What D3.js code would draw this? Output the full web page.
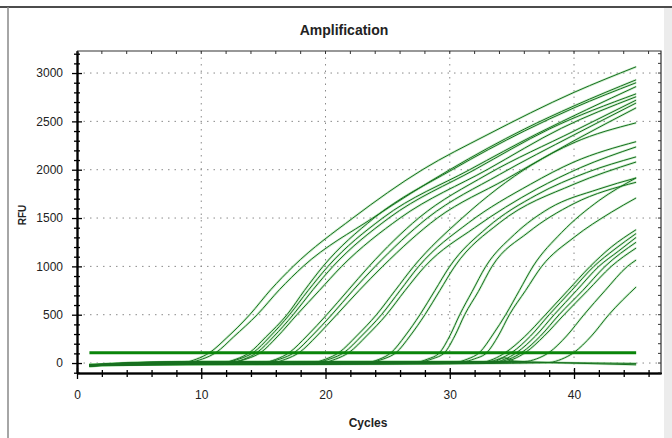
<!DOCTYPE html>
<html>
<head>
<meta charset="utf-8">
<script src="https://cdn.jsdelivr.net/npm/d3@7"></script>
<style>
body { margin: 0; background: #fff; }
text { font-family: "Liberation Sans", Arial, sans-serif; fill: #222; }
</style>
</head>
<body>
<div id="chart"></div>
<script>
// tick values and labels
const xTicks = [0, 10, 20, 30, 40];
const yTicks = [0, 500, 1000, 1500, 2000, 2500, 3000];
const thresholdRFU = 107;
const thresholdCycles = [1, 45];

// amplification curves, [cycle, RFU], grouped by where they leave the baseline
const groupA = [
  [[1,-30],[3,-12],[6,-8],[8.6,6],[9.6,40],[10.7,110],[12,255],[13.9,500],[15.6,760],[17.4,1000],[22.2,1500],[27.8,2000],[33,2360],[40,2800],[45,3065]],
  [[1,-25],[3,-8],[6,10],[9.1,12],[10.1,42],[11.2,110],[12.6,270],[14.5,500],[16.3,760],[18.2,1000],[23.8,1500],[30,2000],[36,2420],[40,2660],[45,2930]]
];
const groupB = [
  [[1,-20],[4,-14],[9,-6],[11.8,6],[12.8,40],[13.9,110],[15.2,270],[16.9,500],[18.3,750],[19.8,1000],[23.9,1500],[30.2,2000],[36,2400],[40,2640],[45,2900]],
  [[1,-36],[4,-6],[9,12],[12.1,14],[13.1,44],[14.2,110],[15.5,270],[17.1,500],[18.6,750],[20.2,1000],[24.6,1500],[31.6,2000],[37,2370],[41,2620],[45,2860]],
  [[1,-22],[4,-18],[10,-10],[12.4,4],[13.4,38],[14.5,110],[15.8,270],[17.4,500],[19,760],[20.6,1000],[25.1,1500],[32,2000],[38,2420],[45,2785]],
  [[1,-18],[4,2],[10,14],[12.7,16],[13.7,45],[14.8,110],[16.1,270],[17.7,500],[19.5,750],[21.3,1000],[26,1500],[33,2000],[39,2430],[45,2755]]
];
const groupC = [
  [[1,-28],[5,-16],[12,-8],[15,4],[16,38],[17.1,110],[18.5,280],[20.1,500],[21.8,750],[23.5,1000],[27.5,1500],[33,1950],[40,2400],[45,2720]],
  [[1,-20],[5,6],[12,14],[15.4,15],[16.4,44],[17.5,110],[18.9,280],[20.5,500],[22.2,750],[24,1000],[28.2,1500],[34,1950],[40,2360],[45,2690]],
  [[1,-34],[5,-10],[12,-4],[15.8,6],[16.8,40],[17.9,110],[19.3,280],[20.9,500],[22.7,750],[24.6,1000],[29,1500],[34.5,1900],[40,2300],[45,2640]]
];
const groupD = [
  [[1,-22],[6,-14],[15,-6],[19,6],[20,40],[21.1,110],[22.5,280],[24.1,500],[25.6,750],[27.1,1000],[31,1500],[36.6,2050],[40,2280],[45,2485]],
  [[1,-26],[6,8],[15,12],[19.4,14],[20.4,44],[21.5,110],[22.9,280],[24.5,500],[26,750],[27.5,1000],[31.5,1450],[36.5,1850],[40,2080],[45,2290]],
  [[1,-20],[6,-12],[15,-2],[19.8,6],[20.8,40],[21.9,110],[23.3,280],[24.9,500],[26.4,750],[28,1000],[32,1400],[37,1800],[40.5,2020],[45,2236]]
];
const groupE = [
  [[1,-24],[8,-16],[20,-8],[23.3,4],[24.3,38],[25.3,110],[26.4,280],[27.6,500],[28.8,750],[30,1000],[33,1400],[37,1740],[41,1970],[45,2133]],
  [[1,-18],[8,10],[20,14],[23.7,15],[24.7,44],[25.7,110],[26.8,280],[28,500],[29.2,750],[30.4,1000],[34,1450],[40,1850],[45,2080]]
];
const groupF = [
  [[1,-25],[8,-12],[22,-4],[27.2,6],[28.2,40],[29.2,110],[30,280],[30.8,500],[31.8,740],[32.9,1000],[35.2,1330],[38,1600],[42,1800],[45,1915]],
  [[1,-21],[8,6],[22,12],[27.6,14],[28.6,44],[29.6,110],[30.4,280],[31.2,500],[32.3,740],[33.4,1000],[36.3,1350],[40,1650],[45,1870]]
];
const groupG = [
  [[1,-22],[10,-14],[26,-6],[30.4,6],[31.4,40],[32.4,110],[33.5,300],[34.5,500],[35.6,750],[36.7,1000],[39,1350],[42,1680],[45,1915]],
  [[1,-30],[10,8],[26,12],[31,14],[32,44],[33,110],[33.9,280],[34.8,500],[36.1,750],[37.4,1000],[40,1300],[43,1560],[45,1708]]
];
const groupH = [
  [[1,-20],[10,-12],[28,-4],[32.5,6],[33.5,40],[34.5,110],[36,270],[37.7,500],[39.5,750],[41.3,1000],[43,1200],[45,1380]],
  [[1,-26],[10,10],[28,14],[33,15],[34,44],[35,110],[36.5,280],[38,500],[39.8,750],[41.6,1000],[43.3,1180],[45,1340]],
  [[1,-18],[10,-16],[29,-8],[33.4,4],[34.4,38],[35.4,110],[36.9,280],[38.4,500],[40.2,750],[42,1000],[43.6,1160],[45,1300]],
  [[1,-24],[10,4],[29,10],[33.8,12],[34.8,42],[35.8,110],[37.3,280],[38.8,500],[40.7,750],[42.5,1000],[45,1250]],
  [[1,-20],[10,-6],[30,2],[34.1,8],[35.1,40],[36.1,110],[37.6,280],[39.2,500],[41.1,750],[43,1000],[45,1190]]
];
const groupLate = [
  [[1,-22],[10,12],[30,14],[36,16],[37,44],[38,110],[39.4,280],[40.8,500],[42.5,750],[44.3,1000],[45,1066]],
  [[1,-25],[10,-14],[32,-6],[38,6],[39,40],[40,110],[41.4,280],[42.8,500],[45,787]]
];
const groupNeg = [
  [[1,-34],[4,-10],[10,-4],[20,4],[30,6],[33.5,12],[34.4,55],[35.2,20],[38,6],[42,-8],[45,-18]],
  [[1,-15],[6,-2],[20,3],[35,5],[40,2],[45,-4]]
];

const width = 672;
const height = 438;
const margin = {top: 51, right: 11, bottom: 65, left: 77};

const xScale = d3.scaleLinear()
    .domain([0, 47])
    .range([margin.left, width - margin.right]);

const yScale = d3.scaleLinear()
    .domain([-103, 3228])
    .range([height - margin.bottom, margin.top]);

const xMinor = d3.range(2, 47, 2).filter(d => d % 10 !== 0);
const yMinor = d3.range(-100, 3228, 100).filter(d => d % 500 !== 0);

const svg = d3.select('#chart')
    .append('svg')
    .attr('width', width)
    .attr('height', height);

// window frame round the chart
svg.append('rect').attr('x', 664).attr('y', 8).attr('width', 8).attr('height', height).attr('fill', '#ececec');
svg.append('line').attr('x1', 0).attr('x2', width).attr('y1', 7).attr('y2', 7)
    .attr('stroke', '#111').attr('stroke-width', 1.5);
svg.append('line').attr('x1', 8).attr('x2', 8).attr('y1', 7).attr('y2', height)
    .attr('stroke', '#888').attr('stroke-width', 1.5);

const x0 = xScale.range()[0], x1 = xScale.range()[1];
const y0 = yScale.range()[0], y1 = yScale.range()[1];

// dotted grid
const grid = svg.append('g').attr('stroke', '#8a8a8a').attr('stroke-dasharray', '1.5,5');
grid.selectAll('.gx').data(xTicks.filter(d => d > 0)).join('line')
    .attr('x1', d => xScale(d)).attr('x2', d => xScale(d))
    .attr('y1', y1).attr('y2', y0);
grid.selectAll('.gy').data(yTicks).join('line')
    .attr('x1', x0).attr('x2', x1)
    .attr('y1', d => yScale(d)).attr('y2', d => yScale(d));

// curves
svg.append('clipPath').attr('id', 'plot-clip')
    .append('rect').attr('x', x0).attr('y', y1).attr('width', x1 - x0).attr('height', y0 - y1);

const line = d3.line()
    .x(d => xScale(d[0]))
    .y(d => yScale(d[1]))
    .curve(d3.curveMonotoneX);

const curves = [].concat(groupNeg, groupLate, groupH, groupG, groupF, groupE, groupD, groupC, groupB, groupA);

const plot = svg.append('g').attr('clip-path', 'url(#plot-clip)');

plot.selectAll('.halo').data(curves).join('path')
    .attr('fill', 'none')
    .attr('stroke', '#8fd48f')
    .attr('stroke-width', 2.4)
    .attr('stroke-opacity', 0.45)
    .attr('d', line);

plot.selectAll('.curve').data(curves).join('path')
    .attr('fill', 'none')
    .attr('stroke', '#17701f')
    .attr('stroke-width', 1)
    .attr('d', line);

plot.append('line')
    .attr('x1', xScale(thresholdCycles[0])).attr('x2', xScale(thresholdCycles[1]))
    .attr('y1', yScale(thresholdRFU)).attr('y2', yScale(thresholdRFU))
    .attr('stroke', '#0a850a').attr('stroke-width', 3);

// plot frame, top and right
svg.append('path')
    .attr('d', `M${x0},${y1}H${x1}V${y0}`)
    .attr('fill', 'none').attr('stroke', '#333').attr('stroke-width', 1.2);

function styleAxis(g) {
    g.select('.domain').attr('stroke', '#000').attr('stroke-width', 1.5);
    g.selectAll('.tick line').attr('stroke', '#000').attr('stroke-width', 1.3);
    g.selectAll('text').attr('font-size', 12).attr('fill', '#222');
}

const fmt = d3.format('d');

// left axis: labels outside, ticks crossing the line
svg.append('g').attr('transform', `translate(${x0},0)`)
    .call(d3.axisLeft(yScale).tickValues(yTicks).tickFormat(fmt).tickSize(5).tickPadding(9).tickSizeOuter(0))
    .call(styleAxis);
svg.append('g').attr('transform', `translate(${x0},0)`)
    .call(d3.axisRight(yScale).tickValues(yTicks).tickSize(5).tickFormat('').tickSizeOuter(0))
    .call(styleAxis);
svg.append('g').attr('transform', `translate(${x0},0)`)
    .call(d3.axisLeft(yScale).tickValues(yMinor).tickSize(3).tickFormat('').tickSizeOuter(0))
    .call(styleAxis);
svg.append('g').attr('transform', `translate(${x0},0)`)
    .call(d3.axisRight(yScale).tickValues(yMinor).tickSize(3).tickFormat('').tickSizeOuter(0))
    .call(styleAxis);

// bottom axis
svg.append('g').attr('transform', `translate(0,${y0})`)
    .call(d3.axisBottom(xScale).tickValues(xTicks).tickFormat(fmt).tickSize(6).tickPadding(11).tickSizeOuter(0))
    .call(styleAxis);
svg.append('g').attr('transform', `translate(0,${y0})`)
    .call(d3.axisTop(xScale).tickValues(xTicks).tickSize(5).tickFormat('').tickSizeOuter(0))
    .call(styleAxis);
svg.append('g').attr('transform', `translate(0,${y0})`)
    .call(d3.axisBottom(xScale).tickValues(xMinor).tickSize(4).tickFormat('').tickSizeOuter(0))
    .call(styleAxis);
svg.append('g').attr('transform', `translate(0,${y0})`)
    .call(d3.axisTop(xScale).tickValues(xMinor).tickSize(3).tickFormat('').tickSizeOuter(0))
    .call(styleAxis);

// small inner ticks on the top and right edges
const edgeTicks = svg.append('g').attr('stroke', '#333').attr('stroke-width', 1);
edgeTicks.selectAll('.tt').data(xTicks.concat(xMinor)).join('line')
    .attr('x1', d => xScale(d)).attr('x2', d => xScale(d))
    .attr('y1', y1).attr('y2', y1 + 3);
edgeTicks.selectAll('.rt').data(yTicks.concat(yMinor)).join('line')
    .attr('x1', x1).attr('x2', x1 - 3)
    .attr('y1', d => yScale(d)).attr('y2', d => yScale(d));

// titles
svg.append('text')
    .attr('x', 344).attr('y', 35)
    .attr('text-anchor', 'middle')
    .attr('font-size', 14).attr('font-weight', 'bold')
    .text('Amplification');

svg.append('text')
    .attr('x', 368).attr('y', 427)
    .attr('text-anchor', 'middle')
    .attr('font-size', 12).attr('font-weight', 'bold')
    .text('Cycles');

svg.append('text')
    .attr('transform', 'translate(26,215) rotate(-90)')
    .attr('text-anchor', 'middle')
    .attr('font-size', 10).attr('font-weight', 'bold')
    .text('RFU');
</script>
</body>
</html>
